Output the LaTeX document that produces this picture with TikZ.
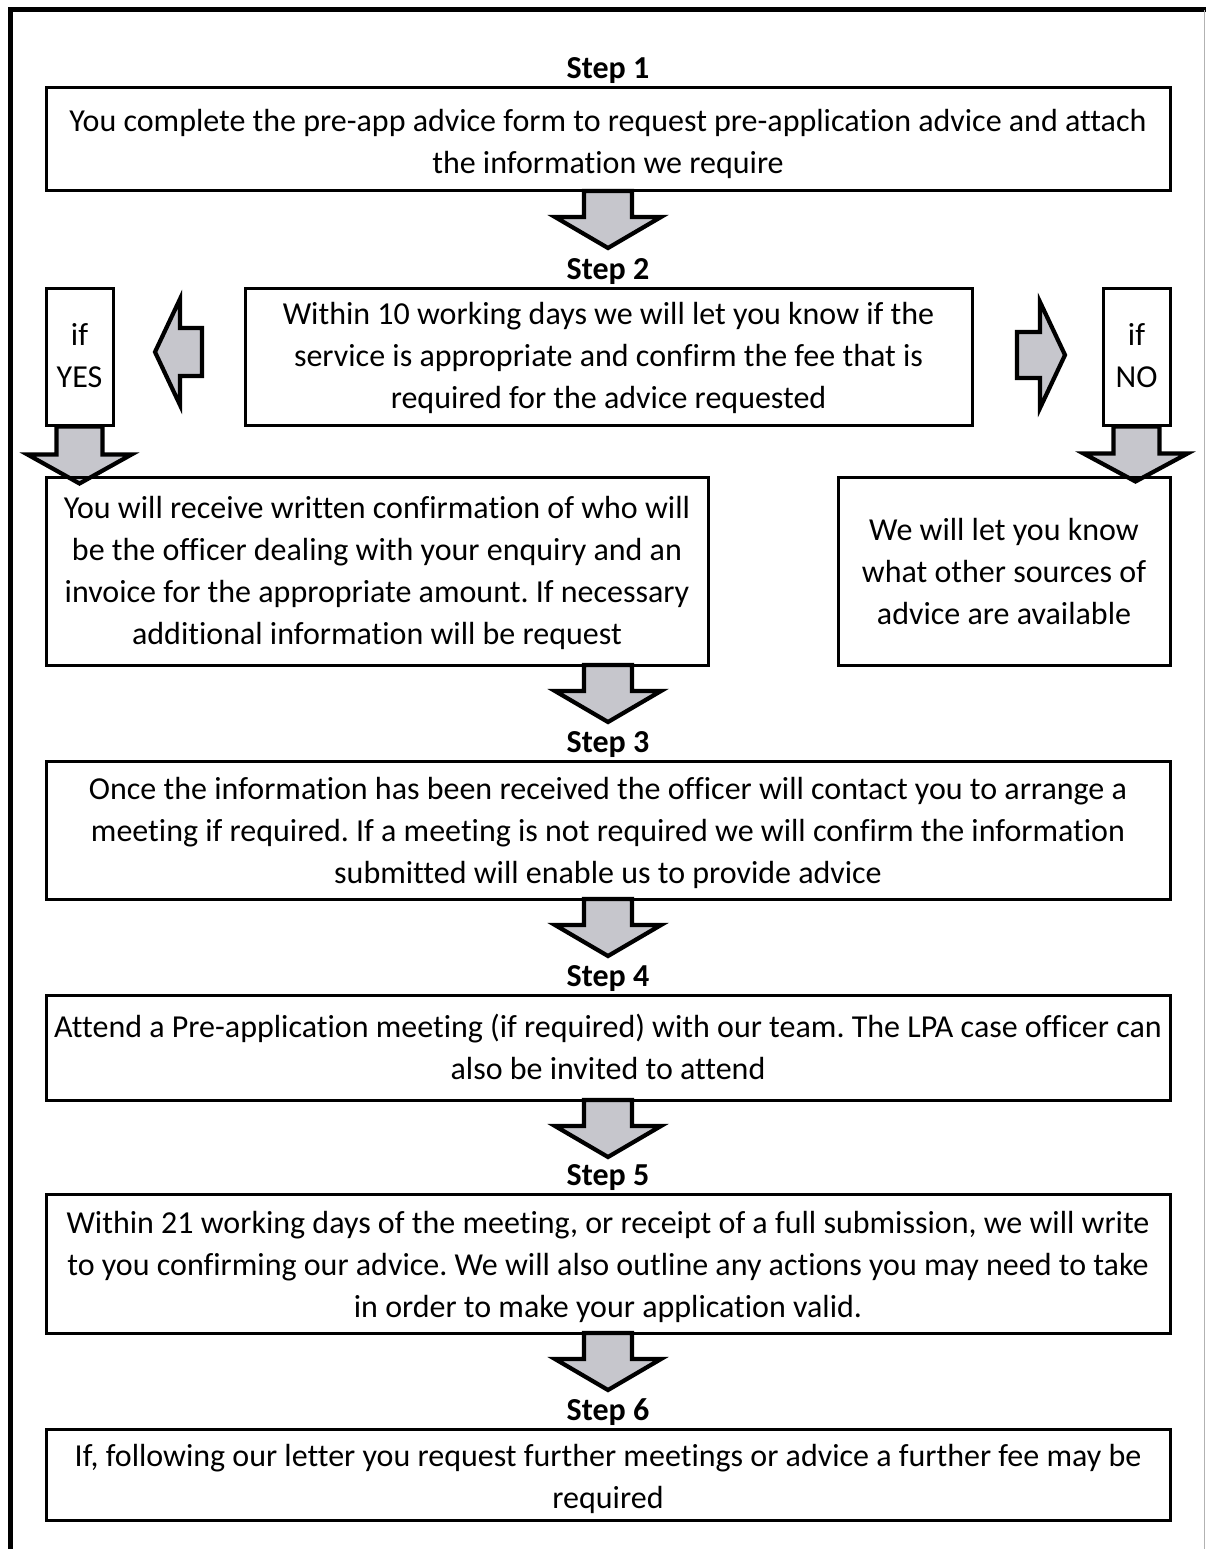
\documentclass[tikz,border=0pt]{standalone}
\usepackage{fontspec}
\setmainfont{Carlito}[Ligatures={NoCommon}]
\usetikzlibrary{calc}
\definecolor{arrowgray}{RGB}{198,198,204}
\tikzset{
  box/.style={draw=black, line width=3pt, rectangle, inner sep=0pt},
  boxtext/.style={inner sep=0pt, align=center, anchor=base,
    font=\fontsize{32}{42}\selectfont},
  steplabel/.style={inner sep=0pt, anchor=base, font=\fontsize{32}{36}\selectfont\bfseries},
  blockarrow/.style={draw=black, fill=arrowgray, line width=4.2pt, line join=miter},
}
% down block arrow: #1 = start coordinate (top center)
\newcommand\downblock[1]{%
  \draw[blockarrow] ($(#1)+(-24,0)$) -- ++(0,26) -- ++(-29,0) -- ($(#1)+(0,57)$)
    -- ($(#1)+(53,26)$) -- ($(#1)+(24,26)$) -- ($(#1)+(24,0)$) -- cycle;}
\begin{document}
\frenchspacing
\begin{tikzpicture}[x=1pt,y=-1pt]
\useasboundingbox (0,0) rectangle (1206,1549);
% outer frame
\draw[line width=5pt] (10,1549) -- (10,10) -- (1206,10);
\draw[line width=1pt, gray!60] (1204,10) -- (1204,1549);

\node[steplabel] (s1) at (608,79) {Step 1};
\node[box, minimum width=1124pt, minimum height=103pt] (b1) at (608,139.5) {};
\node[boxtext] (t1) at (608,173.7)
  {You complete the pre-app advice form to request pre-application advice and attach\\the information we require};
\coordinate (a1) at (608,191);
\downblock{a1}

\node[steplabel] (s2) at (608,279) {Step 2};
\node[box, minimum width=727pt, minimum height=137pt] (b2) at (608.5,356.5) {};
\node[boxtext] (t2) at (608.5,408.5)
  {Within 10 working days we will let you know if the\\service is appropriate and confirm the fee that is\\required for the advice requested};
\node[box, minimum width=67pt, minimum height=137pt] (yes) at (79.5,356.5) {};
\node[boxtext] (tyes) at (79.5,387.5) {if\\YES};
\node[box, minimum width=67pt, minimum height=137pt] (no) at (1136.5,356.5) {};
\node[boxtext] (tno) at (1136.5,387.5) {if\\NO};

% left pointing arrow
\coordinate (la) at (202,352);
\draw[blockarrow] (la) ++(0,-24) -- ++(-22,0) -- ++(0,-29) -- (155,352) -- (180,405) -- (180,376) -- (202,376) -- cycle;
% right pointing arrow
\coordinate (ra) at (1017,355);
\draw[blockarrow] (ra) ++(0,-23) -- ++(23,0) -- ++(0,-30) -- (1065,355) -- (1040,408) -- (1040,378) -- (1017,378) -- cycle;

% down from yes/no
\draw[blockarrow] ($(yes.south)+(-23,0)$) -- ++(0,28) -- ++(-29,0) -- ($(yes.south)+(0,57)$)
  -- ($(yes.south)+(52,28)$) -- ($(yes.south)+(23,28)$) -- ($(yes.south)+(23,0)$) -- cycle;
\draw[blockarrow] ($(no.south)+(-23,0)$) -- ++(0,27) -- ++(-30,0) -- ($(no.south)+(-1,55)$)
  -- ($(no.south)+(51,27)$) -- ($(no.south)+(23,27)$) -- ($(no.south)+(23,0)$) -- cycle;

\node[box, minimum width=662pt, minimum height=188pt] (yb) at (377,571) {};
\node[boxtext] (tyb) at (377,644.5)
  {You will receive written confirmation of who will\\be the officer dealing with your enquiry and an\\invoice for the appropriate amount. If necessary\\additional information will be request};
\node[box, minimum width=332pt, minimum height=188pt] (nb) at (1004,571) {};
\node[boxtext] (tnb) at (1004,624.5)
  {We will let you know\\what other sources of\\advice are available};
\coordinate (a2) at (608,665);
\downblock{a2}

\node[steplabel] (s3) at (608,752) {Step 3};
\node[box, minimum width=1124pt, minimum height=138pt] (b3) at (608,830) {};
\node[boxtext] (t3) at (608,883.5)
  {Once the information has been received the officer will contact you to arrange a\\meeting if required. If a meeting is not required we will confirm the information\\submitted will enable us to provide advice};
\coordinate (a3) at (608,899);
\downblock{a3}

\node[steplabel] (s4) at (608,986) {Step 4};
\node[box, minimum width=1124pt, minimum height=105pt] (b4) at (608,1047.5) {};
\node[boxtext] (t4) at (608,1079)
  {Attend a Pre-application meeting (if required) with our team. The LPA case officer can\\also be invited to attend};
\coordinate (a4) at (608,1100);
\downblock{a4}

\node[steplabel] (s5) at (608,1185) {Step 5};
\node[box, minimum width=1124pt, minimum height=139pt] (b5) at (608,1263.5) {};
\node[boxtext] (t5) at (608,1317.5)
  {Within 21 working days of the meeting, or receipt of a full submission, we will write\\to you confirming our advice. We will also outline any actions you may need to take\\in order to make your application valid.};
\coordinate (a5) at (608,1333);
\downblock{a5}

\node[steplabel] (s6) at (608,1420) {Step 6};
\node[box, minimum width=1124pt, minimum height=91pt] (b6) at (608,1474.5) {};
\node[boxtext] (t6) at (608,1508)
  {If, following our letter you request further meetings or advice a further fee may be\\required};
\end{tikzpicture}
\end{document}
